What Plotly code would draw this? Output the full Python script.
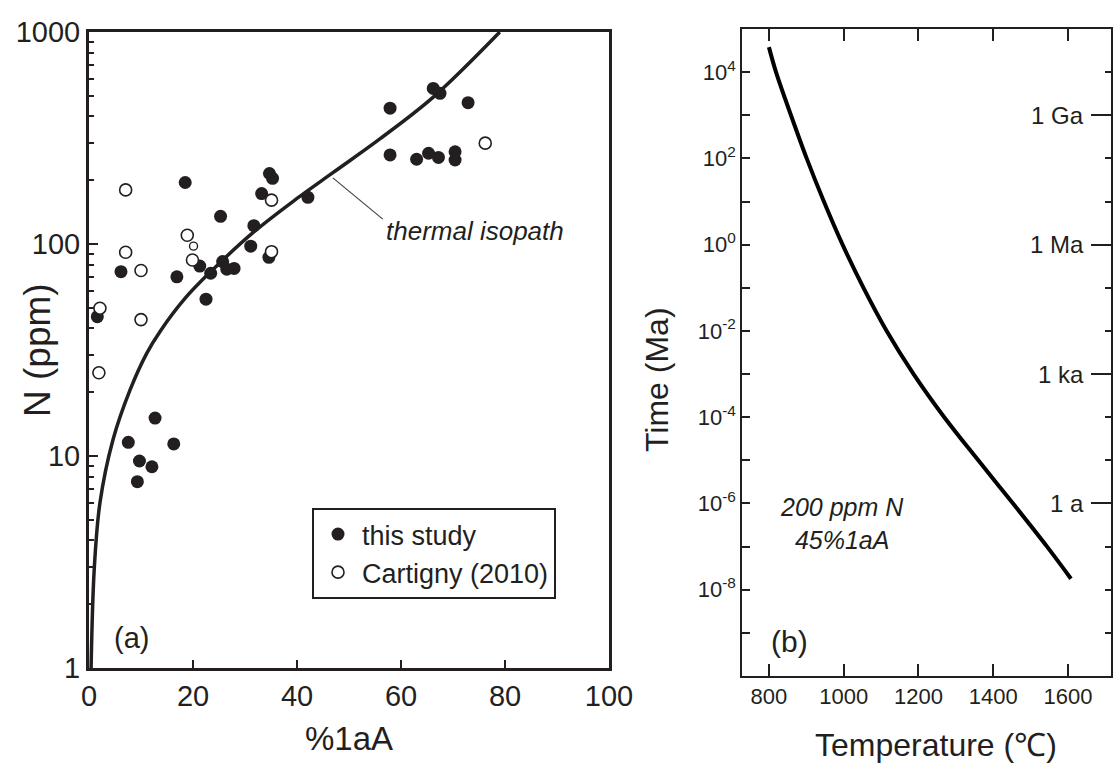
import math
import plotly.graph_objects as go

# ---- panel (a): N content vs %1aA ----
this_x = [57.9, 66.2, 67.5, 72.9, 57.9, 63.0, 65.3, 67.2, 70.4, 70.4,
          18.5, 34.7, 35.3, 33.2, 42.1, 25.3, 31.7, 31.1, 34.6, 25.7,
          26.5, 27.9, 21.3, 23.4, 6.15, 16.9, 22.5, 1.6,
          12.7, 7.56, 16.3, 9.7, 12.1, 9.3]
this_n = [437, 542, 514, 464, 263, 251, 268, 256, 272, 249,
          195, 215, 204, 173, 166, 135, 122, 97.7, 86.5, 82.6,
          76, 76.7, 78.7, 72.8, 74, 70, 54.9, 45.4,
          15.1, 11.6, 11.4, 9.47, 8.9, 7.57]

cart_x = [7.05, 18.9, 19.9, 7.05, 10.0, 10.0, 2.1, 35.1, 35.1, 76.2, 1.9]
cart_n = [180, 110, 84, 91.4, 75, 44, 49.8, 161, 92, 299, 24.7]
cart_small_x = [20.1]
cart_small_n = [97.7]

iso_x = [0.4, 1.0, 2.1, 4.6, 7.9, 11.1, 13.7, 18.5, 23.4, 31.7, 40.0, 46.9, 56.0, 66.2, 79.0]
iso_n = [1.0, 2.9, 6.0, 11.9, 20.5, 30.5, 38.8, 55.5, 74.0, 114, 164, 217, 314, 493, 1000]

# ---- panel (b): residence time vs temperature ----
temp_c = [800, 819, 859, 901, 947, 997, 1053, 1115, 1187, 1269, 1360, 1453, 1544, 1608]
time_ma = [3.8e4, 1e4, 1e3, 1e2, 10, 1, 0.1, 1e-2, 1e-3, 1e-4, 1e-5, 1e-6, 1e-7, 1.8e-8]

# tick labels
a_xticks = [0, 20, 40, 60, 80, 100]
a_yticks = [1, 10, 100, 1000]
b_xticks = [800, 1000, 1200, 1400, 1600]
b_yexp = [4, 2, 0, -2, -4, -6, -8]
age_vals = [1e3, 1, 1e-3, 1e-6]
age_text = ["1 Ga", "1 Ma", "1 ka", "1 a"]

INK = "#231f20"
FONT = "Liberation Sans, Arial, sans-serif"
W, H = 1113, 765


def px(x):
    return x / W


def py(y):
    return 1 - y / H


fig = go.Figure()

fig.add_trace(go.Scatter(
    x=iso_x, y=iso_n, mode="lines", line=dict(color=INK, width=3.5, shape="spline"),
    showlegend=False, hoverinfo="skip", xaxis="x", yaxis="y"))
fig.add_trace(go.Scatter(
    x=this_x, y=this_n, mode="markers", name="this study",
    marker=dict(color=INK, size=13, line=dict(width=0)), xaxis="x", yaxis="y"))
fig.add_trace(go.Scatter(
    x=cart_x, y=cart_n, mode="markers", name="Cartigny (2010)",
    marker=dict(color="white", size=12, line=dict(color=INK, width=1.6)),
    xaxis="x", yaxis="y"))
fig.add_trace(go.Scatter(
    x=cart_small_x, y=cart_small_n, mode="markers", showlegend=False,
    marker=dict(color="white", size=8, line=dict(color=INK, width=1.4)),
    xaxis="x", yaxis="y"))

fig.add_trace(go.Scatter(
    x=temp_c, y=time_ma, mode="lines", line=dict(color="black", width=4, shape="spline"),
    showlegend=False, hoverinfo="skip", xaxis="x2", yaxis="y2"))
# keeps the age axis on the right drawn
fig.add_trace(go.Scatter(
    x=temp_c, y=time_ma, mode="lines", line=dict(width=0), opacity=0,
    showlegend=False, hoverinfo="skip", xaxis="x2", yaxis="y3"))

axis_common = dict(showgrid=False, zeroline=False, linecolor=INK, tickcolor=INK,
                   showline=True, automargin=False)

fig.update_layout(
    width=W, height=H,
    margin=dict(l=0, r=0, t=0, b=0, autoexpand=False),
    paper_bgcolor="white", plot_bgcolor="white",
    font=dict(family=FONT, color=INK),
    xaxis=dict(axis_common, domain=[px(89), px(609)], range=[0, 100],
               tickvals=a_xticks, ticks="inside", ticklen=8, tickwidth=2,
               linewidth=3, mirror=True, tickfont=dict(size=29), anchor="y"),
    yaxis=dict(axis_common, domain=[py(668), py(32)], type="log", range=[0, 3],
               tickvals=a_yticks, ticktext=[str(v) for v in a_yticks],
               ticks="inside", ticklen=9, tickwidth=2, linewidth=3, mirror=True,
               tickfont=dict(size=29), anchor="x",
               minor=dict(tickvals=[m * 10 ** e for e in range(3) for m in range(2, 10)],
                          ticks="inside", ticklen=5, tickwidth=1.5, tickcolor=INK)),
    xaxis2=dict(axis_common, domain=[px(742), px(1111)], range=[728, 1715],
                tickvals=b_xticks, ticks="inside", ticklen=12, tickwidth=1.5,
                linewidth=1.5, mirror="ticks", tickfont=dict(size=22), anchor="y2"),
    yaxis2=dict(axis_common, domain=[py(676), py(29)], type="log", range=[-10, 5],
                tickvals=[10 ** e for e in b_yexp],
                ticktext=["10<sup>%d</sup>" % e for e in b_yexp],
                ticks="inside", ticklen=8, tickwidth=1.5, linewidth=1.5, mirror=True,
                tickfont=dict(size=22), anchor="x2",
                minor=dict(tickvals=[10 ** e for e in range(-9, 6, 2)],
                           ticks="inside", ticklen=8, tickwidth=1.5, tickcolor=INK)),
    yaxis3=dict(showgrid=False, zeroline=False, showline=False, overlaying="y2",
                side="right", anchor="x2", type="log", range=[-10, 5], automargin=False,
                tickvals=age_vals, showticklabels=False, ticks="inside", ticklen=20,
                tickwidth=1.5, tickcolor=INK,
                minor=dict(tickvals=[10 ** e for e in range(-10, 6)],
                           ticks="inside", ticklen=6, tickwidth=1.5, tickcolor=INK)),
    legend=dict(x=px(312), y=py(508), xanchor="left", yanchor="top",
                bordercolor=INK, borderwidth=2, bgcolor="white", itemwidth=38,
                font=dict(size=27, color=INK), tracegroupgap=0),
)

annotations = [
    dict(text="(a)", x=px(131), y=py(638), font=dict(size=29)),
    dict(text="(b)", x=px(789), y=py(641), font=dict(size=30)),
    dict(text="<i>thermal isopath</i>", x=px(475), y=py(231), font=dict(size=26)),
    dict(text="<i>200 ppm N<br>45%1aA</i>", x=px(842), y=py(523), font=dict(size=25)),
    dict(text="N (ppm)", x=px(38), y=py(350), textangle=-90, font=dict(size=37)),
    dict(text="%1aA", x=px(349), y=py(738), font=dict(size=33)),
    dict(text="Time (Ma)", x=px(657), y=py(380), textangle=-90, font=dict(size=32)),
    dict(text="Temperature (℃)", x=px(936), y=py(745), font=dict(size=32)),
]
for a in annotations:
    fig.add_annotation(xref="paper", yref="paper", showarrow=False,
                       xanchor="center", yanchor="middle", **a)

# age labels beside the long ticks on the right of panel (b)
for v, t in zip(age_vals, age_text):
    fig.add_annotation(xref="paper", yref="y2", x=px(1086), y=math.log10(v), text=t,
                       showarrow=False, xanchor="right", yanchor="middle",
                       font=dict(size=24, color=INK))

# leader line from the curve to its label
fig.add_shape(type="line", xref="x", yref="y",
              x0=46.9, y0=205, x1=56.5, y1=131,
              line=dict(color="#444444", width=1.2))

# drop the page margin so the figure fills the window exactly
fig.write_html("out.html", config={"displayModeBar": False},
               post_script="document.body.style.margin='0';document.body.style.overflow='hidden';")
